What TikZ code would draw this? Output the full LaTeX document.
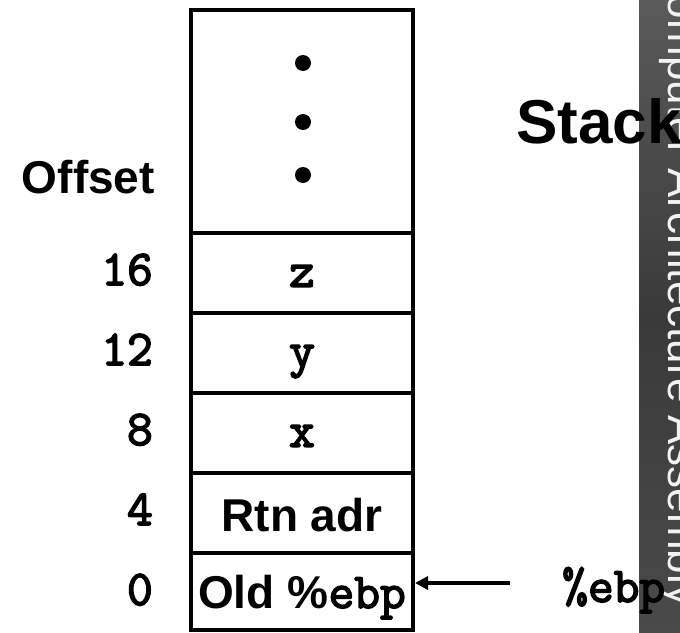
\documentclass[tikz,border=0pt]{standalone}
\usepackage{fontspec}
\setmainfont{Liberation Sans}
% heavy typewriter face for register names and offsets
\newfontfamily\codefont{Latin Modern Mono}[FakeBold=3.2]
\usetikzlibrary{arrows.meta}
\definecolor{stripTop}{HTML}{5A5A5A}
\definecolor{stripMid}{HTML}{3A3A3A}
\definecolor{stripBot}{HTML}{4A4A4A}
\definecolor{stripText}{HTML}{F2F2F2}

\begin{document}
\begin{tikzpicture}[x=1pt,y=-1pt,
  cell/.style={draw, line width=4pt, minimum width=222pt, inner sep=0pt},
  sanslabel/.style={inner sep=0pt, font=\fontsize{46}{46}\selectfont\bfseries},
  codelabel/.style={inner sep=0pt, font=\codefont\fontsize{50}{50}\selectfont},
  bullet/.style={circle, fill=black, inner sep=0pt, minimum size=16pt},
  pointer/.style={line width=4.5pt, -{Triangle[length=13pt,width=13pt]}}]

\useasboundingbox (0,0) rectangle (680,632);
\clip (0,0) rectangle (680,632);

% side strip with its running title
\shade[top color=stripTop, bottom color=stripBot, middle color=stripMid]
  (639,0) rectangle (680,632);
\node[rotate=-90, anchor=base west, inner sep=0pt, text=stripText,
      font=\fontsize{44}{44}\selectfont] (strip) at (668,-37)
  {Computer Architecture Assembly};

% heading
\node[anchor=base west, inner sep=0pt, font=\fontsize{62}{62}\selectfont\bfseries]
  (title) at (516,143) {Stack};

% stack frame cells
\node[cell, minimum height=222.5pt] (more) at (302,121.25) {};
\node[cell, minimum height=80pt] (zcell) at (302,272.5) {};
\node[cell, minimum height=80pt] (ycell) at (302,352.5) {};
\node[cell, minimum height=80pt] (xcell) at (302,432.5) {};
\node[cell, minimum height=80pt] (rtn) at (302,512.5) {};
\node[cell, minimum height=77.5pt] (old) at (302,591.25) {};

% continuation dots
\node[bullet] (dotA) at (303,63) {};
\node[bullet] (dotB) at (303,122) {};
\node[bullet] (dotC) at (303,175) {};

% cell contents
\node[codelabel, anchor=base] (zlab) at (302,286.7) {z};
\node[codelabel, anchor=base] (ylab) at (302,366.7) {y};
\node[codelabel, anchor=base] (xlab) at (302,446.7) {x};
\node[sanslabel, anchor=base] (rtnlab) at (302,531.7) {Rtn adr};
\node[inner sep=0pt, anchor=base] (oldlab) at (302,608)
  {{\fontsize{46}{46}\selectfont\bfseries Old \%}{\codefont\fontsize{50}{50}\selectfont ebp}};

% offsets
\node[sanslabel, anchor=base east] (offset) at (155,193) {Offset};
\node[codelabel, anchor=base east] (off16) at (153,285) {16};
\node[codelabel, anchor=base east] (off12) at (153,365) {12};
\node[codelabel, anchor=base east] (off8) at (153,445) {8};
\node[codelabel, anchor=base east] (off4) at (153,525) {4};
\node[codelabel, anchor=base east] (off0) at (153,605) {0};

% frame pointer
\node[codelabel, anchor=base west] (ebp) at (562,602) {\%ebp};
\coordinate (ptrtail) at (510,583);
\draw[pointer] (ptrtail) -- (old.east |- ptrtail);
\end{tikzpicture}
\end{document}
